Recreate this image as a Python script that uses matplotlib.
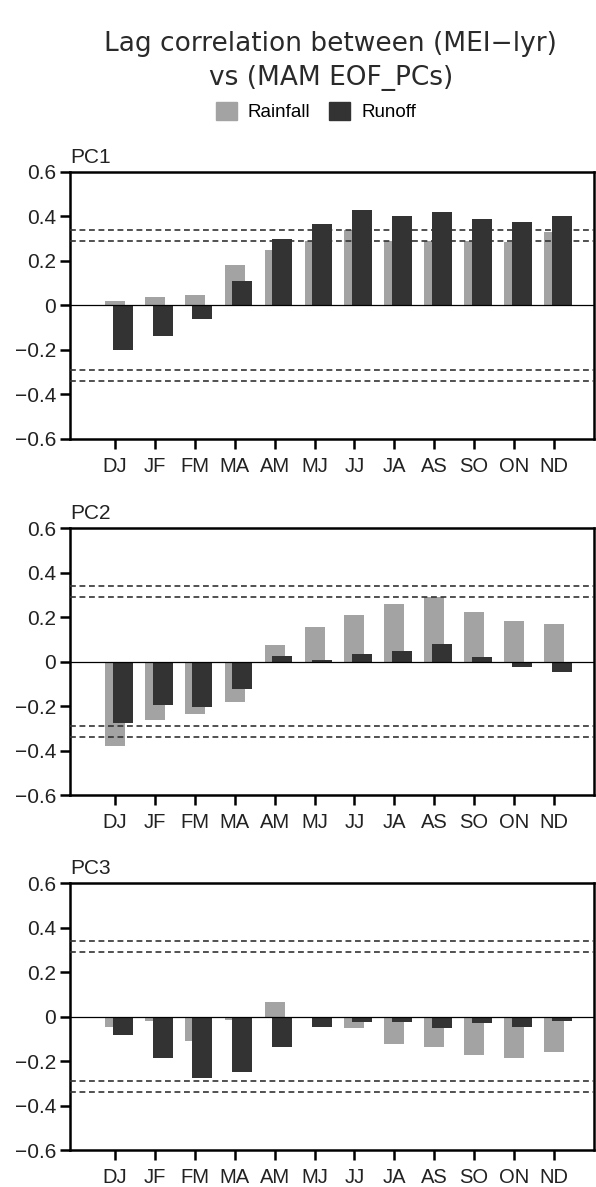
"""
Lag correlation between MEI (-1yr) and MAM EOF PCs
==================================================
Bar chart panels (PC1..PC3) of rainfall vs runoff lag correlations,
with the 95% / 99% significance levels drawn as dashed lines.
"""

import matplotlib
matplotlib.use("Agg")

import matplotlib.pyplot as plt
import matplotlib.patches as mpatches
import numpy as np

RAIN_GREY = "#a3a3a3"
RUNOFF_DARK = "#333333"

months = ["DJ", "JF", "FM", "MA", "AM", "MJ", "JJ", "JA", "AS", "SO", "ON", "ND"]

# values
pc1_rain = [0.02, 0.04, 0.045, 0.18, 0.25, 0.29, 0.34, 0.29, 0.29, 0.29, 0.285, 0.33]
pc1_runoff = [-0.20, -0.135, -0.06, 0.11, 0.30, 0.365, 0.43, 0.40, 0.42, 0.39, 0.375, 0.40]

pc2_rain = [-0.38, -0.26, -0.235, -0.18, 0.075, 0.155, 0.21, 0.26, 0.29, 0.225, 0.185, 0.17]
pc2_runoff = [-0.275, -0.195, -0.205, -0.12, 0.028, 0.01, 0.034, 0.05, 0.082, 0.022, -0.025, -0.045]

pc3_rain = [-0.045, -0.02, -0.11, -0.015, 0.065, -0.003, -0.052, -0.124, -0.138, -0.174, -0.186, -0.16]
pc3_runoff = [-0.08, -0.185, -0.275, -0.248, -0.137, -0.045, -0.025, -0.025, -0.052, -0.03, -0.048, -0.018]

sig_levels = [0.29, 0.34]
yticks = [-0.6, -0.4, -0.2, 0, 0.2, 0.4, 0.6]
ytick_labels = ["\u22120.6", "\u22120.4", "\u22120.2", "0", "0.2", "0.4", "0.6"]

TICK_FONT = "Liberation Sans"


def draw_panel(ax, rain, runoff, label):
    x = np.arange(1, len(months) + 1)
    ax.bar(x, rain, width=0.5, color=RAIN_GREY, zorder=2)
    ax.bar(x + 0.19, runoff, width=0.5, color=RUNOFF_DARK, zorder=3)

    ax.axhline(0, color="black", linewidth=0.9, zorder=4)
    for lev in sig_levels:
        for sgn in (1, -1):
            ax.axhline(sgn * lev, color="#333333", linestyle=(0, (3.5, 2.2)),
                       linewidth=1.2, zorder=5)

    ax.set_xlim(-0.13, 13.0)
    ax.set_ylim(-0.6, 0.6)
    ax.set_xticks(x)
    ax.set_xticklabels(months, fontsize=14.5, family=TICK_FONT, color="#222222")
    ax.set_yticks(yticks)
    ax.set_yticklabels(ytick_labels, fontsize=15, family=TICK_FONT, color="#222222")
    ax.tick_params(direction="out", length=7, width=1.8, pad=3)
    ax.tick_params(axis="x", pad=6)
    for sp in ax.spines.values():
        sp.set_linewidth(1.8)

    ax.text(0.0, 1.02, label, transform=ax.transAxes, ha="left", va="bottom",
            fontsize=15, family=TICK_FONT, color="#222222")


def main():
    fig = plt.figure(figsize=(5.96, 11.87), dpi=100)
    fig.patch.set_facecolor("white")

    left, width, height = 0.1174, 0.879, 0.2249
    bottoms = [0.6302, 0.3300, 0.0310]
    panels = [(pc1_rain, pc1_runoff, "PC1"),
              (pc2_rain, pc2_runoff, "PC2"),
              (pc3_rain, pc3_runoff, "PC3")]

    for b, (rain, runoff, lab) in zip(bottoms, panels):
        ax = fig.add_axes([left, b, width, height])
        draw_panel(ax, rain, runoff, lab)

    fig.text(0.555, 0.963, "Lag correlation between (MEI\u2212lyr)",
             ha="center", va="center", fontsize=19, color="#2a2a2a")
    fig.text(0.555, 0.934, "vs (MAM EOF_PCs)",
             ha="center", va="center", fontsize=19, color="#2a2a2a")

    handles = [mpatches.Patch(color=RAIN_GREY, label="Rainfall"),
               mpatches.Patch(color=RUNOFF_DARK, label="Runoff")]
    fig.legend(handles=handles, loc="center", bbox_to_anchor=(0.53, 0.906),
               ncol=2, frameon=False, fontsize=13.5, handlelength=1.1,
               handleheight=1.1, columnspacing=1.0, handletextpad=0.6,
               prop={"family": TICK_FONT, "size": 13.5})

    fig.savefig("out.png", dpi=100, facecolor="white")
    plt.close(fig)


if __name__ == "__main__":
    main()
